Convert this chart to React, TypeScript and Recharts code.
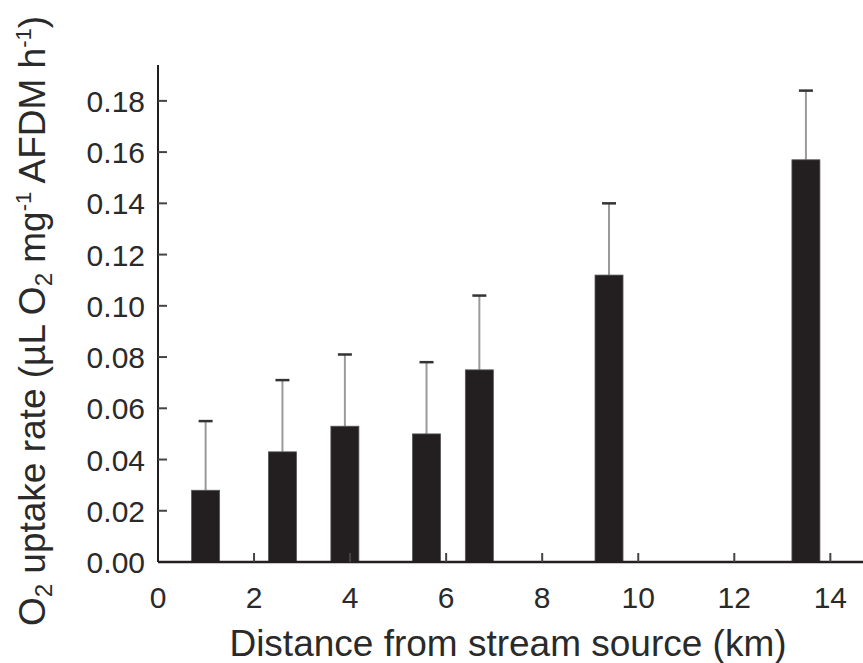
import React from 'react';
import { BarChart, Bar, XAxis, YAxis } from 'recharts';

// distance from source (km), mean O2 uptake and upper error (SE)
const distanceKm = [1.0, 2.6, 3.9, 5.6, 6.7, 9.4, 13.5];
const uptakeRate = [0.028, 0.043, 0.053, 0.05, 0.075, 0.112, 0.157];
const uptakeErr = [0.027, 0.028, 0.028, 0.028, 0.029, 0.028, 0.027];

const xTicks = [0, 2, 4, 6, 8, 10, 12, 14];
const yTicks = [0, 0.02, 0.04, 0.06, 0.08, 0.1, 0.12, 0.14, 0.16, 0.18];

const data = distanceKm.map((d, i) => ({ dist: d, rate: uptakeRate[i], err: uptakeErr[i] }));

const FONT = '"Liberation Sans", Arial, Helvetica, sans-serif';
const INK = '#231f20';

const BarWithError = (props: any) => {
  const { x, y, width, height, payload } = props;
  const pxPerUnit = height / payload.rate;
  const top = y - payload.err * pxPerUnit;
  const cx = x + width / 2;
  return (
    <g>
      <line x1={cx} y1={y} x2={cx} y2={top} stroke="#9a9a9a" strokeWidth={2} />
      <line x1={cx - 7} y1={top} x2={cx + 7} y2={top} stroke="#333" strokeWidth={2.5} />
      <rect x={x} y={y} width={width} height={height} fill={INK} stroke="#555" strokeWidth={0.8} />
    </g>
  );
};

const XTick = (props: any) => {
  const { x, y, payload } = props;
  return (
    <g>
      {payload.value !== 0 && <line x1={x} y1={y} x2={x} y2={y - 9} stroke="#444" strokeWidth={2} />}
      <text x={x} y={y + 46} textAnchor="middle" fontSize={30} fontFamily={FONT} fill="#2a2a2a">
        {payload.value}
      </text>
    </g>
  );
};

const YTick = (props: any) => {
  const { x, y, payload } = props;
  return (
    <g>
      {payload.value !== 0 && <line x1={x} y1={y} x2={x + 9} y2={y} stroke="#444" strokeWidth={2} />}
      <text x={x - 13} y={y + 11} textAnchor="end" fontSize={30} fontFamily={FONT} fill="#2a2a2a">
        {payload.value.toFixed(2)}
      </text>
    </g>
  );
};

const XTitle = () => (
  <text x={508} y={656} textAnchor="middle" fontSize={37} fontFamily={FONT} fill="#2a2a2a">
    Distance from stream source (km)
  </text>
);

const YTitle = () => (
  <text
    x={45}
    y={321}
    transform="rotate(-90 45 321)"
    textAnchor="middle"
    fontSize={37}
    fontFamily={FONT}
    fill="#2a2a2a"
  >
    <tspan>O</tspan>
    <tspan fontSize={24} dy={7}>2</tspan>
    <tspan dy={-7}> uptake rate (µL O</tspan>
    <tspan fontSize={24} dy={7}>2</tspan>
    <tspan dy={-7}> mg</tspan>
    <tspan fontSize={22} dy={-14}>-1</tspan>
    <tspan dy={14}> AFDM h</tspan>
    <tspan fontSize={22} dy={-14}>-1</tspan>
    <tspan dy={14}>)</tspan>
  </text>
);

export default function App() {
  return (
    <div style={{ position: 'absolute', left: 0, top: 0, background: '#fff' }}>
      <BarChart width={863} height={663} data={data} margin={{ top: 65, right: 0, left: 157, bottom: 100 }}>
        <XAxis
          dataKey="dist"
          type="number"
          domain={[0, 14.68]}
          ticks={xTicks}
          height={1}
          tickSize={0}
          tickMargin={0}
          tickLine={false}
          tick={<XTick />}
          axisLine={{ stroke: INK, strokeWidth: 2.5 }}
          interval={0}
          label={{ content: () => <XTitle /> }}
        />
        <YAxis
          type="number"
          domain={[0, 0.194]}
          ticks={yTicks}
          width={1}
          tickSize={0}
          tickMargin={0}
          tickLine={false}
          tick={<YTick />}
          axisLine={{ stroke: INK, strokeWidth: 2 }}
          interval={0}
          label={{ content: () => <YTitle /> }}
        />
        <Bar dataKey="rate" barSize={28} shape={<BarWithError />} isAnimationActive={false} />
      </BarChart>
    </div>
  );
}
